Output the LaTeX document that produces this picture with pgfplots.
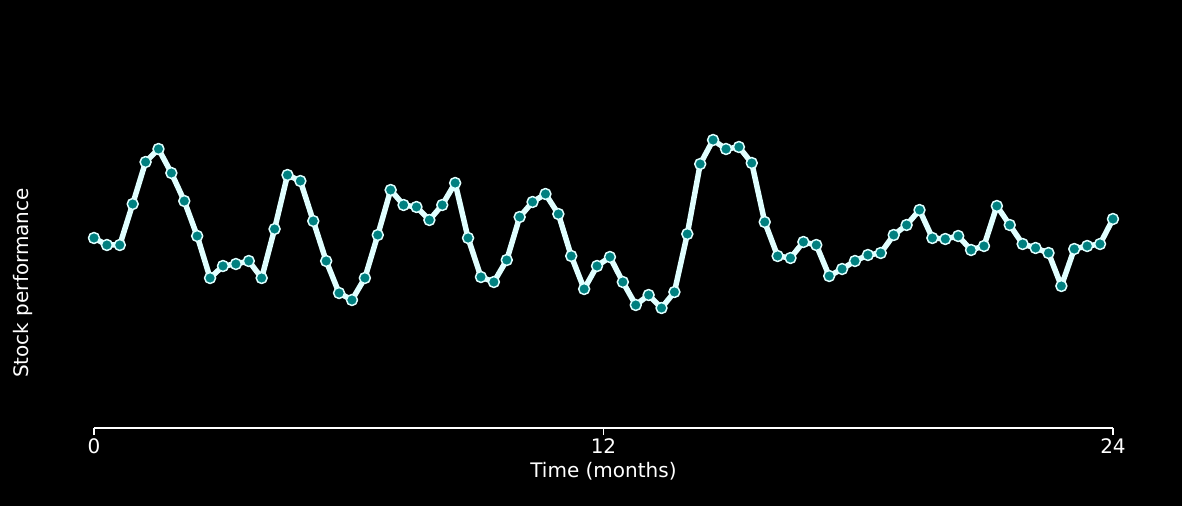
\documentclass[border=0pt]{standalone}
\usepackage{pgfplots}
\pgfplotsset{compat=1.18}
\usepackage{fontspec}
\setmainfont{DejaVu Sans}
\definecolor{lc}{HTML}{E0FFFF}
\definecolor{tl}{HTML}{008080}
\begin{document}
\begin{tikzpicture}[x=1pt,y=1pt]
\fill[black] (0,0) rectangle (1182,506);
\path[use as bounding box] (0,0) rectangle (1182,506);
\begin{axis}[at={(94pt,78pt)},anchor=south west,scale only axis,
 width=1019pt,height=388pt,xmin=0,xmax=24,ymin=-428,ymax=-40,
 axis y line=none, axis x line*=bottom, axis line style={white,line width=1.5pt,-},
 xtick={0,12,24}, tick style={white,line width=1.5pt}, tick align=outside, major tick length=7pt,
 ticklabel style={white,font=\fontsize{20}{22}\selectfont},
 /pgf/number format/assume math mode=true,
 xlabel={Time (months)}, xlabel style={white,font=\fontsize{20}{22}\selectfont,yshift=-2pt},
 clip=false]
\addplot[lc,line width=5.5pt,line join=round,mark=*,mark size=5.5pt,
 mark options={fill=tl,draw=lc,line width=1.5pt}] table[x expr=\coordindex*24/79,y expr=-\thisrowno{0}] {
y
238
245
245
204
162
149
173
201
236
278
266
264
261
278
229
175
181
221
261
293
300
278
235
190
205
207
220
205
183
238
277
282
260
217
202
194
214
256
289
266
257
282
305
295
308
292
234
164
140
149
147
163
222
256
258
242
245
276
269
261
255
253
235
225
210
238
239
236
250
246
206
225
244
248
253
286
249
246
244
219
};
\end{axis}
\node[white,rotate=90,font=\fontsize{20}{22}\selectfont] at (23,223) {Stock performance};
\end{tikzpicture}
\end{document}
